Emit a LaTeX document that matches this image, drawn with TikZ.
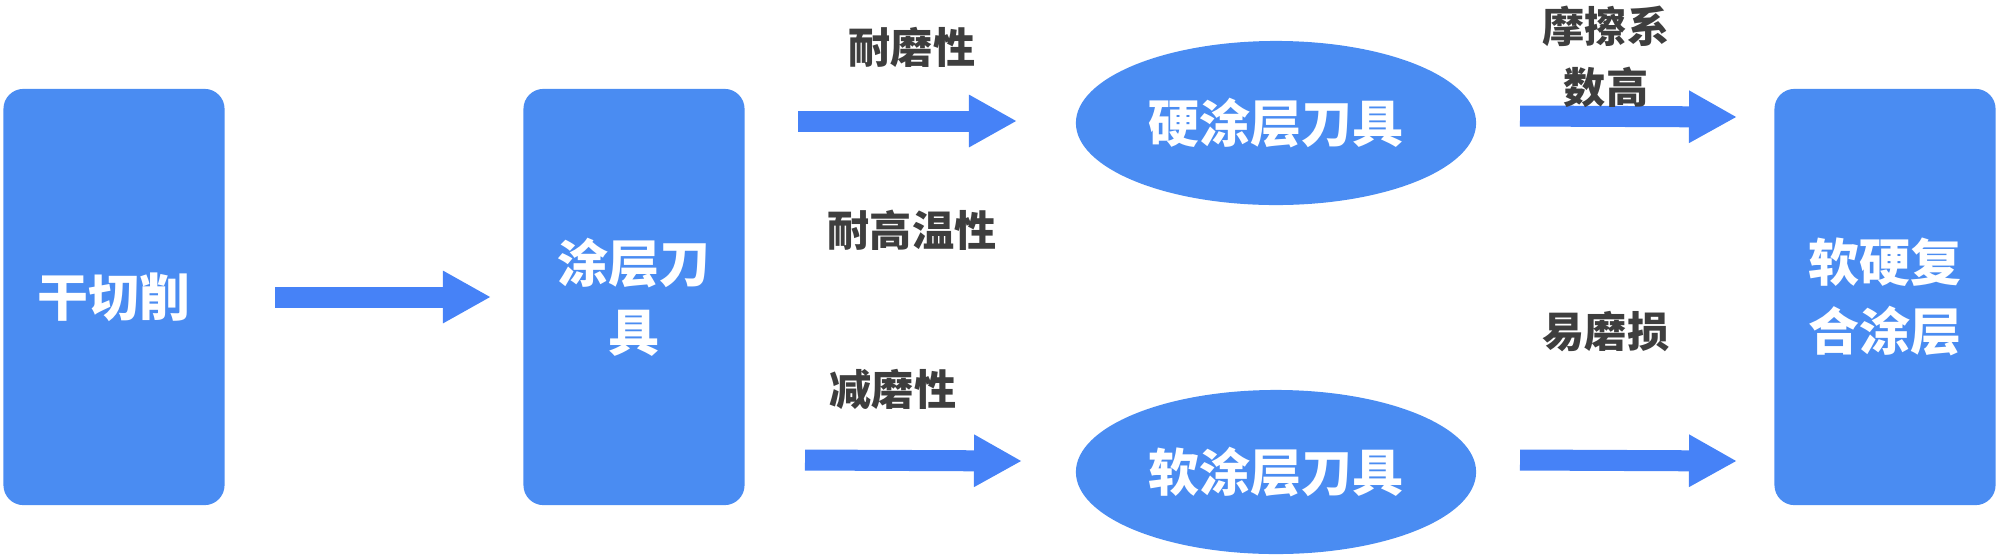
\documentclass[tikz,border=0pt]{standalone}
\usepackage{fontspec}
\setmainfont{Noto Sans CJK SC}
\usetikzlibrary{arrows.meta,shapes.geometric}
\definecolor{boxblue}{HTML}{4A8CF2}
\definecolor{arrowblue}{HTML}{4682F7}
\definecolor{labelgray}{HTML}{3E3E3E}
\begin{document}
\begin{tikzpicture}[x=0.01cm,y=-0.01cm,
  blockbox/.style={fill=boxblue,rounded corners=0.2cm,minimum width=2.21cm,minimum height=4.16cm,inner sep=0pt,
    text=white,font=\fontsize{14.5}{19.6}\selectfont\bfseries,align=center},
  oval/.style={ellipse,fill=boxblue,minimum width=4.0cm,minimum height=1.64cm,inner sep=0pt,
    text=white,font=\fontsize{14.5}{19.6}\selectfont\bfseries},
  lbl/.style={text=labelgray,font=\fontsize{12}{17.4}\selectfont\bfseries,align=center,inner sep=0pt},
  fat/.style={arrowblue,line width=0.21cm,-{Triangle[length=0.48cm,width=0.49cm]}}]
\useasboundingbox (0,0) rectangle (2000,557);
\node[blockbox] (dry) at (114,297) {干切削};
\node[blockbox] (coat) at (634,297) {涂层刀\\具};
\node[blockbox] (comp) at (1885,297) {软硬复\\合涂层};
\node[oval] (hard) at (1276,123) {硬涂层刀具};
\node[oval] (soft) at (1276,472) {软涂层刀具};
\coordinate (a1s) at (275,297); \coordinate (a1e) at (491,297);
\coordinate (a2s) at (798,121); \coordinate (a2e) at (1017,121);
\coordinate (a3s) at (805,460); \coordinate (a3e) at (1022,461);
\coordinate (a4s) at (1520,116); \coordinate (a4e) at (1737,117);
\coordinate (a5s) at (1520,460); \coordinate (a5e) at (1737,461);
\draw[fat] (a1s) -- (a1e);
\draw[fat] (a2s) -- (a2e);
\draw[fat] (a3s) -- (a3e);
\draw[fat] (a4s) -- (a4e);
\draw[fat] (a5s) -- (a5e);
\node[lbl] (l1) at (912,47) {耐磨性};
\node[lbl] (l2) at (912,230) {耐高温性};
\node[lbl] (l3) at (893,389) {减磨性};
\node[lbl] (l4) at (1606,57) {摩擦系\\数高};
\node[lbl] (l5) at (1606,332) {易磨损};
\end{tikzpicture}
\end{document}
